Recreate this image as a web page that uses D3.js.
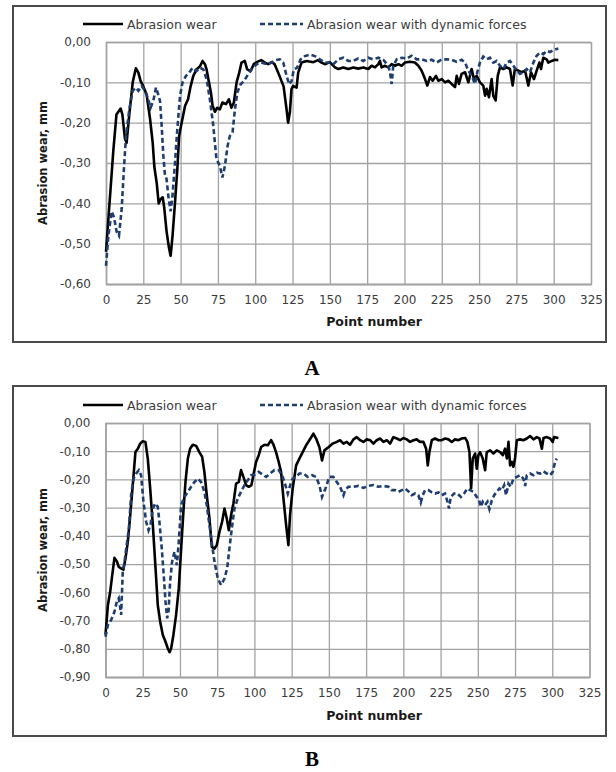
<!DOCTYPE html>
<html>
<head>
<meta charset="utf-8">
<script src="https://cdn.jsdelivr.net/npm/d3@7"></script>
<style>
  body { margin: 0; background: #fff; }
  svg { display: block; }
</style>
</head>
<body>
<svg id="chart" width="616" height="772"></svg>
<script>
// x ticks shared by both panels
const xTickValues = [0, 25, 50, 75, 100, 125, 150, 175, 200, 225, 250, 275, 300, 325];
const yTicksA = [0, -0.1, -0.2, -0.3, -0.4, -0.5, -0.6];
const yTicksB = [0, -0.1, -0.2, -0.3, -0.4, -0.5, -0.6, -0.7, -0.8, -0.9];
const seriesNames = ['Abrasion wear', 'Abrasion wear with dynamic forces'];

// panel A - abrasion wear
const wearA = [[0,-0.52],[4.9,-0.27],[7,-0.18],[9.8,-0.165],[11,-0.18],[12.7,-0.24],[13.8,-0.25],[15.6,-0.18],
  [17.9,-0.10],[20,-0.065],[21.7,-0.076],[23.2,-0.097],[25,-0.11],[27.2,-0.13],[29.5,-0.19],[31.3,-0.25],
  [32.4,-0.31],[34,-0.35],[35.3,-0.40],[36.6,-0.39],[38,-0.385],[39,-0.41],[40.6,-0.47],[42.2,-0.51],
  [43.3,-0.53],[44.6,-0.48],[46.2,-0.40],[47.8,-0.315],[49,-0.233],[50.7,-0.20],[53,-0.158],[55,-0.142],
  [56.7,-0.11],[58.5,-0.084],[60.7,-0.068],[63,-0.06],[64.7,-0.047],[66.3,-0.055],[67.4,-0.068],[69,-0.10],
  [70.3,-0.125],[71.4,-0.158],[73,-0.173],[74.5,-0.163],[76.3,-0.167],[78,-0.15],[80.4,-0.154],[82.4,-0.142],
  [84,-0.163],[85.7,-0.15],[87.5,-0.10],[89.3,-0.076],[90.8,-0.051],[93,-0.047],[94.6,-0.068],[96.9,-0.072],
  [99,-0.055],[101,-0.05],[104,-0.045],[106.5,-0.051],[108.7,-0.055],[111,-0.05],[113,-0.055],[115.4,-0.076],
  [117.6,-0.097],[119,-0.11],[121,-0.167],[122,-0.20],[123.2,-0.175],[124.3,-0.117],[125.4,-0.109],[127.7,-0.113],
  [128.8,-0.076],[131,-0.051],[134.4,-0.047],[139,-0.05],[142,-0.045],[144.4,-0.051],[146.7,-0.055],[150,-0.05],
  [153.4,-0.063],[155.7,-0.067],[159,-0.063],[162.4,-0.067],[165.7,-0.063],[169,-0.066],[172.4,-0.063],
  [175.8,-0.067],[178,-0.059],[180.3,-0.063],[182.5,-0.055],[183.6,-0.047],[184.7,-0.063],[187,-0.059],
  [189.2,-0.063],[191.4,-0.055],[193.7,-0.059],[196,-0.055],[198.1,-0.059],[200.4,-0.051],[203.7,-0.049],
  [207,-0.051],[209.3,-0.059],[211.5,-0.071],[213.8,-0.092],[215.3,-0.108],[217.1,-0.087],[218.9,-0.096],
  [221.1,-0.084],[222.7,-0.096],[225,-0.092],[227.2,-0.10],[229.4,-0.096],[231.6,-0.104],[233.9,-0.112],
  [235,-0.084],[236.5,-0.104],[238.3,-0.079],[240.6,-0.075],[242.8,-0.10],[245,-0.067],[246.6,-0.092],
  [248.4,-0.084],[250.6,-0.10],[252.8,-0.108],[254,-0.133],[255.1,-0.116],[256.6,-0.137],[258.4,-0.092],
  [259.5,-0.133],[261.1,-0.145],[262.5,-0.084],[264,-0.063],[266.3,-0.067],[268.5,-0.063],[270.7,-0.067],
  [272.5,-0.108],[274,-0.067],[276.3,-0.071],[278.5,-0.075],[280.8,-0.071],[283,-0.108],[284.8,-0.075],
  [286.8,-0.092],[288.6,-0.071],[290.4,-0.051],[291.5,-0.067],[293,-0.039],[295.3,-0.043],[296.4,-0.051],
  [298.6,-0.047],[300.9,-0.044],[303.1,-0.045]];

// panel A - abrasion wear with dynamic forces
const dynA = [[0,-0.555],[1.6,-0.48],[3.8,-0.42],[5.4,-0.435],[7.1,-0.47],[8.7,-0.48],[10.5,-0.414],[12,-0.315],
  [13.4,-0.233],[15.6,-0.167],[17.9,-0.121],[20,-0.113],[21.7,-0.121],[23.9,-0.109],[26.1,-0.121],[28.3,-0.142],
  [29.9,-0.163],[31.7,-0.146],[33.5,-0.113],[35,-0.13],[36.2,-0.146],[37.3,-0.208],[38.4,-0.28],[39.5,-0.33],
  [40.6,-0.34],[41.7,-0.38],[43.3,-0.42],[44.6,-0.38],[46.2,-0.30],[47.8,-0.216],[49.6,-0.134],[51.3,-0.10],
  [53.6,-0.084],[55.8,-0.076],[58,-0.064],[60.7,-0.072],[63,-0.064],[65.2,-0.068],[67.4,-0.092],[69.6,-0.142],
  [71.9,-0.208],[74,-0.29],[76.3,-0.307],[78,-0.336],[79.7,-0.307],[81.5,-0.257],[83,-0.233],[84.8,-0.224],
  [86.4,-0.167],[88,-0.125],[90.2,-0.105],[92.4,-0.097],[94.6,-0.084],[97.5,-0.068],[101,-0.055],[104,-0.051],
  [107.6,-0.055],[111,-0.051],[113.8,-0.045],[116.5,-0.043],[118.8,-0.051],[121,-0.084],[122.8,-0.105],
  [124.3,-0.097],[125.9,-0.068],[128,-0.064],[130.4,-0.043],[133.3,-0.035],[136.6,-0.031],[140,-0.035],
  [143.3,-0.043],[146.7,-0.051],[150,-0.051],[152.3,-0.055],[155.7,-0.043],[159,-0.039],[162.4,-0.047],
  [165.7,-0.047],[169,-0.041],[172.4,-0.047],[175.8,-0.039],[179.1,-0.043],[182.5,-0.039],[185.8,-0.044],
  [189.2,-0.059],[190.3,-0.075],[191.4,-0.104],[192.5,-0.059],[194.8,-0.043],[198.1,-0.039],[201.5,-0.041],
  [204.8,-0.034],[208.2,-0.043],[211.5,-0.043],[214.9,-0.047],[218.2,-0.044],[221.6,-0.051],[224.9,-0.043],
  [228.3,-0.043],[231.6,-0.044],[235,-0.049],[238.3,-0.044],[240.6,-0.051],[242.8,-0.071],[245,-0.084],
  [247.3,-0.104],[248.8,-0.075],[250.6,-0.051],[252.8,-0.036],[255.1,-0.043],[257.3,-0.039],[259.5,-0.051],
  [261.8,-0.047],[264,-0.059],[266.3,-0.067],[268.5,-0.051],[270.7,-0.047],[273,-0.059],[275.2,-0.071],
  [277.4,-0.079],[279.7,-0.075],[281.9,-0.067],[284.1,-0.075],[286.4,-0.051],[288.6,-0.034],[290.8,-0.026],
  [293.1,-0.03],[295.3,-0.022],[297.5,-0.025],[299.8,-0.02],[303.1,-0.016]];

// panel B - abrasion wear
const wearB = [[0,-0.75],[1.6,-0.645],[3.1,-0.60],[4.5,-0.54],[6,-0.478],[7.6,-0.49],[8.9,-0.51],[10.5,-0.515],
  [12,-0.52],[13.4,-0.48],[15,-0.42],[16.6,-0.327],[18.3,-0.22],[20.1,-0.103],[21.7,-0.091],[23.3,-0.073],
  [25,-0.065],[26.8,-0.067],[28.4,-0.126],[30,-0.232],[31.8,-0.362],[33.6,-0.515],[35.1,-0.645],[36.7,-0.704],
  [38.5,-0.751],[40.3,-0.775],[41.8,-0.798],[43,-0.812],[44.1,-0.798],[45.6,-0.751],[47.4,-0.68],[49.2,-0.586],
  [50.8,-0.445],[52.3,-0.315],[53.7,-0.209],[55.3,-0.126],[56.8,-0.091],[58.6,-0.077],[60.9,-0.081],[63,-0.103],
  [64.9,-0.12],[66.4,-0.173],[68,-0.256],[69.8,-0.338],[71.4,-0.439],[73.2,-0.445],[74.7,-0.433],[76.5,-0.386],
  [78.3,-0.35],[79.9,-0.303],[81.4,-0.338],[82.8,-0.38],[84.3,-0.327],[85.9,-0.285],[87.7,-0.215],[89.5,-0.209],
  [91,-0.167],[92.6,-0.191],[94.4,-0.22],[96.2,-0.226],[98,-0.22],[99.3,-0.185],[101.1,-0.138],[102.9,-0.114],
  [104.5,-0.085],[106.7,-0.077],[109,-0.079],[111.2,-0.061],[112.8,-0.077],[114.5,-0.103],[116.3,-0.138],
  [117.9,-0.173],[119.5,-0.268],[121.3,-0.362],[122.8,-0.433],[123.9,-0.327],[125.7,-0.232],[128,-0.15],
  [130.2,-0.126],[132.4,-0.103],[134.7,-0.079],[136.9,-0.061],[139.6,-0.038],[141.4,-0.055],[143.6,-0.085],
  [145.4,-0.133],[147,-0.097],[149.9,-0.085],[152.6,-0.073],[155.3,-0.067],[157.5,-0.061],[159.8,-0.073],
  [162,-0.067],[164.2,-0.077],[166.5,-0.058],[168.7,-0.05],[171,-0.061],[173.2,-0.067],[175.4,-0.058],
  [177.7,-0.061],[179.9,-0.073],[182.1,-0.061],[184.4,-0.055],[186.6,-0.067],[188.9,-0.061],[191.1,-0.073],
  [193.3,-0.05],[195.6,-0.055],[197.8,-0.061],[200,-0.053],[202.3,-0.058],[204.5,-0.067],[206.8,-0.061],
  [209,-0.058],[211.2,-0.067],[213.5,-0.067],[215.3,-0.091],[216.4,-0.15],[217.5,-0.103],[219.1,-0.061],
  [221.3,-0.055],[223.6,-0.061],[225.8,-0.061],[228,-0.055],[230.3,-0.058],[232.5,-0.067],[234.7,-0.058],
  [237,-0.061],[239.2,-0.055],[241.5,-0.053],[243,-0.067],[244.4,-0.103],[245.5,-0.232],[246.6,-0.126],
  [248.2,-0.108],[249.3,-0.162],[250.4,-0.114],[251.5,-0.103],[253.3,-0.126],[254.9,-0.167],[256,-0.103],
  [258.3,-0.097],[260.5,-0.108],[262.7,-0.097],[265,-0.103],[266.8,-0.114],[268.3,-0.091],[269.5,-0.126],
  [270.6,-0.067],[271.7,-0.15],[272.8,-0.138],[273.9,-0.155],[275,-0.126],[276.2,-0.061],[278.4,-0.058],
  [280.6,-0.061],[282.9,-0.055],[285.1,-0.046],[287.4,-0.058],[289.6,-0.05],[291.4,-0.055],[293,-0.091],
  [294.1,-0.053],[296.3,-0.05],[298.6,-0.055],[300.3,-0.067],[301.2,-0.05],[304.1,-0.053]];

// panel B - abrasion wear with dynamic forces
const dynB = [[0,-0.757],[1.6,-0.716],[3.8,-0.698],[6,-0.669],[7.6,-0.633],[8.9,-0.621],[9.8,-0.651],[10.5,-0.68],
  [11.6,-0.527],[12.8,-0.492],[13.9,-0.445],[15.7,-0.374],[17.2,-0.256],[18.8,-0.197],[20.6,-0.179],[22.4,-0.167],
  [23.9,-0.185],[25.5,-0.279],[27.3,-0.35],[28.9,-0.38],[30.2,-0.362],[31.8,-0.303],[33.3,-0.285],[35.1,-0.297],
  [36.2,-0.35],[37.8,-0.445],[39.1,-0.539],[40.3,-0.633],[41.4,-0.692],[42.3,-0.669],[43.4,-0.562],[44.7,-0.492],
  [46.3,-0.456],[47.9,-0.504],[49.2,-0.421],[50.8,-0.291],[53,-0.262],[55.3,-0.244],[57.5,-0.226],[59.7,-0.209],
  [62,-0.197],[64.2,-0.209],[66.4,-0.244],[68,-0.291],[69.8,-0.362],[71.6,-0.433],[73.2,-0.492],[75.4,-0.551],
  [77.6,-0.574],[79.9,-0.551],[81.7,-0.515],[83.2,-0.445],[84.8,-0.374],[86.6,-0.303],[88.8,-0.268],[91,-0.244],
  [93.3,-0.22],[95.5,-0.203],[97.8,-0.185],[100,-0.183],[102.9,-0.173],[105.6,-0.183],[107.8,-0.191],
  [110.5,-0.179],[113.4,-0.167],[116.3,-0.167],[118.6,-0.185],[120.8,-0.22],[122.4,-0.25],[124,-0.22],
  [125.7,-0.197],[128,-0.191],[130.2,-0.179],[132.9,-0.179],[135.8,-0.191],[138.7,-0.185],[141.4,-0.191],
  [143.6,-0.22],[145.4,-0.262],[147.7,-0.232],[150.3,-0.191],[153,-0.191],[155.3,-0.209],[157.5,-0.226],
  [159.8,-0.256],[160.9,-0.238],[163.1,-0.226],[166.5,-0.226],[169.8,-0.223],[173.2,-0.23],[176.5,-0.223],
  [179.9,-0.22],[183.3,-0.226],[186.6,-0.223],[190,-0.226],[192.2,-0.238],[194.5,-0.238],[196.7,-0.244],
  [199,-0.238],[201.2,-0.232],[203.4,-0.242],[205.6,-0.256],[207.9,-0.25],[210.1,-0.256],[211.7,-0.282],
  [213,-0.256],[214.6,-0.238],[216.8,-0.238],[219.1,-0.246],[221.3,-0.25],[223.6,-0.246],[225.8,-0.256],
  [228,-0.25],[229.6,-0.279],[230.7,-0.303],[231.8,-0.262],[234.1,-0.25],[236.3,-0.25],[238.6,-0.262],
  [240.8,-0.25],[243,-0.232],[244.8,-0.238],[247.1,-0.244],[249.3,-0.262],[250.9,-0.274],[252,-0.297],
  [253.3,-0.279],[254.9,-0.291],[256.5,-0.279],[257.8,-0.305],[259.4,-0.274],[261,-0.256],[262.7,-0.244],
  [264.5,-0.232],[266.1,-0.238],[267.7,-0.22],[269,-0.256],[270.6,-0.215],[272.1,-0.226],[273.9,-0.197],
  [276.2,-0.191],[278.4,-0.185],[280.6,-0.197],[281.8,-0.223],[282.9,-0.185],[285.1,-0.179],[287.4,-0.185],
  [289.6,-0.176],[291.8,-0.179],[294.1,-0.171],[296.3,-0.179],[298.6,-0.185],[300.3,-0.173],[301.9,-0.138],
  [303,-0.126]];

var svg = d3.select('#chart');
var fmt = d3.formatLocale({ decimal: ',', thousands: ' ', grouping: [3], currency: ['', ''], minus: '-' }).format('.2f');

/**
 * Draw one framed panel with grid, two series and legend
 */
function drawPanel(cfg) {
  var g = svg.append('g');

  g.append('rect')
    .attr('x', cfg.frame[0]).attr('y', cfg.frame[1])
    .attr('width', cfg.frame[2]).attr('height', cfg.frame[3])
    .attr('fill', '#fff').attr('stroke', '#4a4a4a').attr('stroke-width', 2);

  var x = d3.scaleLinear().domain([0, 325]).range([cfg.left, cfg.right]);
  var y = d3.scaleLinear().domain([cfg.yTicks[cfg.yTicks.length - 1], 0]).range([cfg.bottom, cfg.top]);

  // grid + ticks
  var xAxis = g.append('g')
    .attr('transform', 'translate(0,' + cfg.bottom + ')')
    .call(d3.axisBottom(x).tickValues(xTickValues).tickSize(-(cfg.bottom - cfg.top)).tickPadding(11).tickFormat(d3.format('d')));
  var yAxis = g.append('g')
    .attr('transform', 'translate(' + cfg.left + ',0)')
    .call(d3.axisLeft(y).tickValues(cfg.yTicks).tickSize(-(cfg.right - cfg.left)).tickPadding(15).tickFormat(fmt));

  [xAxis, yAxis].forEach(function (ax) {
    ax.select('.domain').attr('stroke', '#a3a3a3').attr('stroke-width', 1.3);
    ax.selectAll('.tick line').attr('stroke', '#a3a3a3').attr('stroke-width', 1.3);
    ax.selectAll('.tick text')
      .attr('fill', '#3c3c3c')
      .attr('font-family', 'DejaVu Sans, Verdana, sans-serif')
      .attr('font-size', '12px');
  });

  var line = d3.line().x(d => x(d[0])).y(d => y(d[1]));

  g.append('path').datum(cfg.wear)
    .attr('d', line).attr('fill', 'none')
    .attr('stroke', '#000').attr('stroke-width', 2.6).attr('stroke-linejoin', 'round');

  g.append('path').datum(cfg.dyn)
    .attr('d', line).attr('fill', 'none')
    .attr('stroke', '#1f3e70').attr('stroke-width', 2.6).attr('stroke-dasharray', '5,3');

  // legend
  var ly = cfg.legendY;
  g.append('line').attr('x1', 83).attr('x2', 123).attr('y1', ly).attr('y2', ly)
    .attr('stroke', '#000').attr('stroke-width', 2.6);
  g.append('line').attr('x1', 260).attr('x2', 303).attr('y1', ly).attr('y2', ly)
    .attr('stroke', '#1f3e70').attr('stroke-width', 2.6).attr('stroke-dasharray', '5,3');
  [[127, seriesNames[0]], [307, seriesNames[1]]].forEach(function (it) {
    g.append('text').attr('x', it[0]).attr('y', ly + 4.5)
      .attr('font-family', 'DejaVu Sans, Verdana, sans-serif').attr('font-size', '12.5px')
      .attr('fill', '#3c3c3c').text(it[1]);
  });

  // axis titles
  g.append('text')
    .attr('transform', 'translate(47,' + ((cfg.top + cfg.bottom) / 2) + ') rotate(-90)')
    .attr('text-anchor', 'middle')
    .attr('font-family', 'DejaVu Sans, Verdana, sans-serif').attr('font-size', '11.5px').attr('font-weight', 'bold')
    .attr('fill', '#1a1a1a').text('Abrasion wear, mm');
  g.append('text')
    .attr('x', 374).attr('y', cfg.xTitleY)
    .attr('text-anchor', 'middle')
    .attr('font-family', 'DejaVu Sans, Verdana, sans-serif').attr('font-size', '12.5px').attr('font-weight', 'bold')
    .attr('fill', '#1a1a1a').text('Point number');

  // panel letter
  svg.append('text')
    .attr('x', 312).attr('y', cfg.letterY)
    .attr('text-anchor', 'middle')
    .attr('font-family', 'Liberation Serif, Times New Roman, serif').attr('font-size', '21px').attr('font-weight', 'bold')
    .text(cfg.letter);
}

drawPanel({
  frame: [13, 6, 593, 336], left: 106, right: 591, top: 42, bottom: 284,
  yTicks: yTicksA, wear: wearA, dyn: dynA, legendY: 24, xTitleY: 326, letter: 'A', letterY: 375
});
drawPanel({
  frame: [13, 386, 593, 350], left: 105.5, right: 589.5, top: 423, bottom: 677,
  yTicks: yTicksB, wear: wearB, dyn: dynB, legendY: 405, xTitleY: 720, letter: 'B', letterY: 766
});
</script>
</body>
</html>
